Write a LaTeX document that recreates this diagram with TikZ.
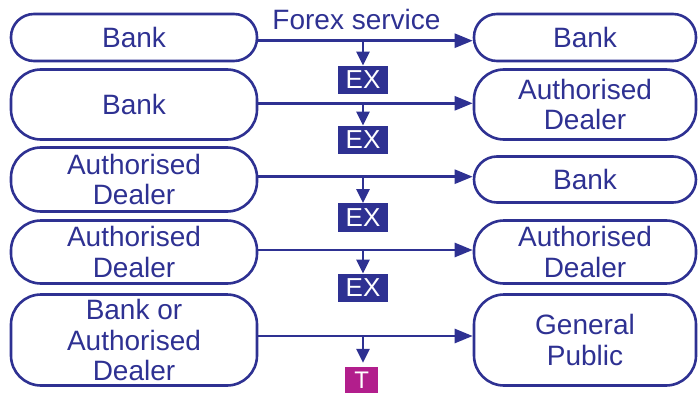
\documentclass[tikz,border=0pt]{standalone}
\usepackage{fontspec}
\setmainfont{Liberation Sans}
\usetikzlibrary{arrows.meta}
\definecolor{fxblue}{RGB}{46,49,146}
\definecolor{fxpink}{RGB}{178,30,140}

\begin{document}
\begin{tikzpicture}[
    x=1pt, y=-1pt,
    party/.style={rectangle, draw=fxblue, line width=2.6pt, rounded corners=30pt, text=fxblue, font=\fontsize{28}{30.5}\selectfont, align=center, inner sep=0pt},
    lparty/.style={party, minimum width=246pt},
    rparty/.style={party, minimum width=222pt},
    tag/.style={rectangle, fill=fxblue, text=white, minimum width=50pt, minimum height=28.5pt, inner sep=0pt, font=\fontsize{26}{26}\selectfont},
    harr/.style={draw=fxblue, line width=2.6pt, -{Triangle[length=18pt,width=14pt]}},
    varr/.style={draw=fxblue, line width=2.6pt, -{Triangle[length=14pt,width=13pt]}}
]
\useasboundingbox (0,0) rectangle (698,393);

% senders and receivers
\node[lparty, minimum height=47pt, rounded corners=23pt] (L1) at (134,37.5) {Bank};
\node[rparty, minimum height=47pt, rounded corners=23pt] (R1) at (585,37.5) {Bank};
\node[lparty, minimum height=70pt] (L2) at (134,104.5) {Bank};
\node[rparty, minimum height=70pt] (R2) at (585,104.5) {Authorised\\Dealer};
\node[lparty, minimum height=64pt] (L3) at (134,179.5) {Authorised\\Dealer};
\node[rparty, minimum height=46pt, rounded corners=23pt] (R3) at (585,179.5) {Bank};
\node[lparty, minimum height=63pt] (L4) at (134,252) {Authorised\\Dealer};
\node[rparty, minimum height=63pt] (R4) at (585,252) {Authorised\\Dealer};
\node[lparty, minimum height=91pt] (L5) at (134,340) {Bank or\\Authorised\\Dealer};
\node[rparty, minimum height=91pt] (R5) at (585,340) {General\\Public};

% tax tags
\node[tag] (X1) at (363,80) {EX};
\node[tag] (X2) at (363,140) {EX};
\node[tag] (X3) at (363,217.5) {EX};
\node[tag] (X4) at (363,288) {EX};
\node[tag, fill=fxpink, minimum width=33pt, minimum height=25.5pt, font=\fontsize{24}{24}\selectfont] (T5) at (361.7,379.8) {T};

% branch points
\coordinate (s1) at (363,40.7);
\coordinate (s2) at (363,103.3);
\coordinate (s3) at (363,176.7);
\coordinate (s4) at (363,250);
\coordinate (s5) at (363,336);

\draw[harr] (L1.east |- s1) -- node[above=10pt, pos=0.458, text=fxblue, font=\fontsize{28}{30}\selectfont, inner sep=0pt] {Forex service} (R1.west |- s1);
\draw[harr] (L2.east |- s2) -- (R2.west |- s2);
\draw[harr] (L3.east |- s3) -- (R3.west |- s3);
\draw[harr] (L4.east |- s4) -- (R4.west |- s4);
\draw[harr] (L5.east |- s5) -- (R5.west |- s5);

\draw[varr] (s1) -- (X1.north);
\draw[varr] (s2) -- (X2.north);
\draw[varr] (s3) -- (X3.north);
\draw[varr] (s4) -- (X4.north);
\draw[varr] (s5) -- ([yshift=4pt]T5.north -| s5);
\end{tikzpicture}
\end{document}
